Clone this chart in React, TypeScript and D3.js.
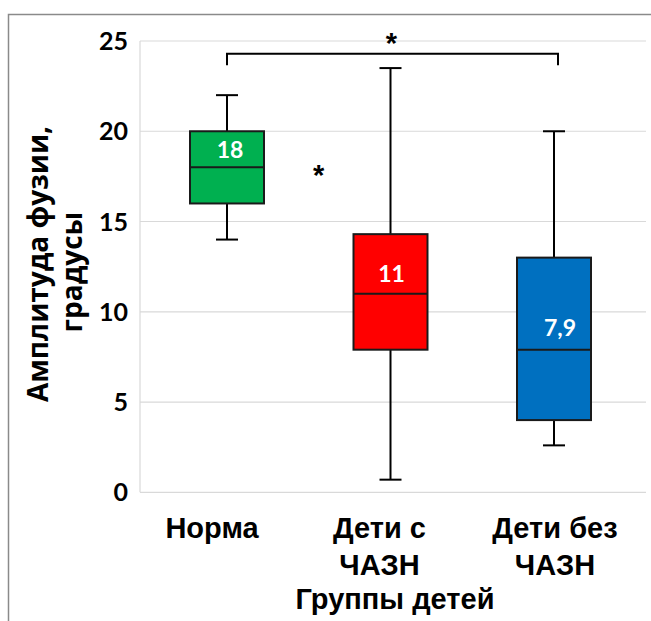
import React from "react";
import * as d3 from "d3";

const categories = ["Норма", "Дети с ЧАЗН", "Дети без ЧАЗН"];
const categoryLines = [["Норма"], ["Дети с", "ЧАЗН"], ["Дети без", "ЧАЗН"]];
const whiskerLow = [14, 0.7, 2.6];
const q1 = [16, 7.9, 4.0];
const medians = [18, 11, 7.9];
const q3 = [20, 14.3, 13];
const whiskerHigh = [22, 23.5, 20];
const medianLabels = ["18", "11", "7,9"];
const boxColors = ["#00B050", "#FF0000", "#0070C0"];
const yTicks = [0, 5, 10, 15, 20, 25];
const yLabelLines = ["Амплитуда фузии,", "градусы"];
const xTitle = "Группы детей";
const bracketValue = 24.3;
const bracketDrop = 23.65;
const starNormaValue = 17.76;

const W = 651;
const H = 621;

export default function App() {
  const y = d3.scaleLinear().domain([0, 25]).range([492.3, 41]);
  const x = d3.scalePoint<string>().domain(categories).range([145.25, 635.75]).padding(0.5);
  const cx = (i: number) => x(categories[i]) as number;
  const boxW = 74;
  const capW = 20;
  const labelDx = [-15, -11, 1];
  const medLabelDx = [3, 1, 6];
  const medLabelY = [158, 282, 336];
  const numFont = "Lato, 'Open Sans', sans-serif";
  const arial = "'Liberation Sans', Arial, sans-serif";

  return (
    <svg width={W} height={H} style={{ position: "absolute", left: 0, top: 0, background: "#fff" }}>
      {/* frame */}
      <path d={`M8.5,${H} V14.5 H${W}`} fill="none" stroke="#8a8a8a" strokeWidth={1.5} />
      {/* gridlines */}
      {yTicks.map((t) => (
        <line key={t} x1={140} x2={646} y1={y(t)} y2={y(t)} stroke="#d9d9d9" strokeWidth={1.2} />
      ))}
      <line x1={140} x2={140} y1={y(25)} y2={y(0)} stroke="#d9d9d9" strokeWidth={1.2} />
      {/* tick labels */}
      {yTicks.map((t) => (
        <text key={"l" + t} x={128} y={y(t) + 9} textAnchor="end" fontFamily={numFont} fontWeight={700} fontSize={25} fill="#000">
          {t}
        </text>
      ))}
      {/* boxes */}
      {categories.map((c, i) => {
        const xc = cx(i);
        return (
          <g key={c}>
            <line x1={xc} x2={xc} y1={y(whiskerHigh[i])} y2={y(q3[i])} stroke="#000" strokeWidth={2} />
            <line x1={xc} x2={xc} y1={y(q1[i])} y2={y(whiskerLow[i])} stroke="#000" strokeWidth={2} />
            <line x1={xc - capW / 2 - 1} x2={xc + capW / 2 + 1} y1={y(whiskerHigh[i])} y2={y(whiskerHigh[i])} stroke="#000" strokeWidth={2} />
            <line x1={xc - capW / 2 - 1} x2={xc + capW / 2 + 1} y1={y(whiskerLow[i])} y2={y(whiskerLow[i])} stroke="#000" strokeWidth={2} />
            <rect x={xc - boxW / 2} y={y(q3[i])} width={boxW} height={y(q1[i]) - y(q3[i])} fill={boxColors[i]} stroke="#1a1a1a" strokeWidth={2} />
            <line x1={xc - boxW / 2} x2={xc + boxW / 2} y1={y(medians[i])} y2={y(medians[i])} stroke="#1a1a1a" strokeWidth={2} />
            <text x={xc + medLabelDx[i]} y={medLabelY[i]} textAnchor="middle" fontFamily={numFont} fontWeight={700} fontSize={23} fill="#fff">
              {medianLabels[i]}
            </text>
          </g>
        );
      })}
      {/* bracket */}
      <path
        d={`M${cx(0)},${y(bracketDrop)} V${y(bracketValue)} H${cx(2) + 4} V${y(bracketDrop)}`}
        fill="none"
        stroke="#000"
        strokeWidth={2}
      />
      <text x={(cx(0) + cx(2)) / 2 + 1} y={53} textAnchor="middle" fontFamily={arial} fontWeight={700} fontSize={29} fill="#000">
        *
      </text>
      <text x={cx(0) + 0.56 * (cx(1) - cx(0))} y={y(starNormaValue) + 13} textAnchor="middle" fontFamily={arial} fontWeight={700} fontSize={29} fill="#000">
        *
      </text>
      {/* x labels */}
      {categoryLines.map((lines, i) =>
        lines.map((ln, j) => (
          <text key={i + "-" + j} x={cx(i) + labelDx[i]} y={538 + j * 37} textAnchor="middle" fontFamily={arial} fontWeight={700} fontSize={29} fill="#000">
            {ln}
          </text>
        ))
      )}
      <text x={395} y={609} textAnchor="middle" fontFamily={arial} fontWeight={700} fontSize={29} fill="#000">
        {xTitle}
      </text>
      {/* y label */}
      {yLabelLines.map((ln, j) => (
        <text
          key={ln}
          transform={`translate(${48 + j * 34},${264 + j * 8}) rotate(-90)`}
          textAnchor="middle"
          fontFamily="'Open Sans', 'Noto Sans', sans-serif"
          fontWeight={700}
          fontSize={28}
          fill="#000"
        >
          {ln}
        </text>
      ))}
    </svg>
  );
}
